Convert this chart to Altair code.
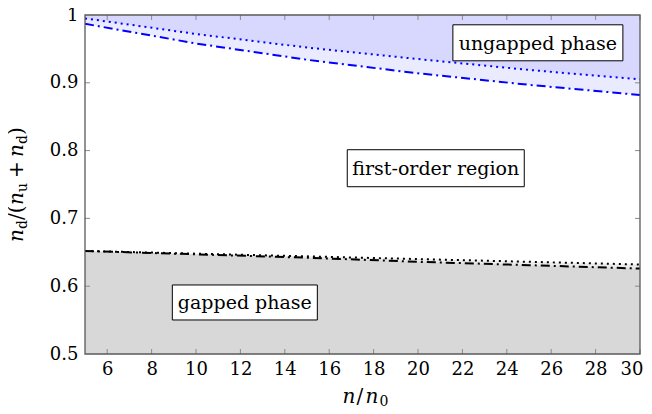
import altair as alt
import pandas as pd

# ---- data ----
n_vals = [5, 10, 15, 20, 25, 30]
blue_dotted = [0.995, 0.972, 0.952, 0.935, 0.919, 0.905]
blue_dashdot = [0.987, 0.958, 0.934, 0.914, 0.897, 0.882]
black_dotted = [0.652, 0.648, 0.644, 0.640, 0.636, 0.632]
black_dashdot = [0.652, 0.647, 0.642, 0.636, 0.631, 0.626]

x_ticks = [6, 8, 10, 12, 14, 16, 18, 20, 22, 24, 26, 28, 30]
y_ticks = [0.5, 0.6, 0.7, 0.8, 0.9, 1.0]
inner_y_ticks = [0.6, 0.7, 0.8, 0.9]

region_labels = ["ungapped phase", "first-order region", "gapped phase"]
region_n = [25.4, 20.8, 12.2]
region_y = [0.959, 0.774, 0.576]

# ---- layout / style ----
W, H = 555, 339
FONT = "DejaVu Serif"
box_sizes = [(170, 36), (177, 37), (145, 35)]

df = pd.DataFrame({
    "n": n_vals,
    "blue_dot": blue_dotted,
    "blue_dash": blue_dashdot,
    "black_dot": black_dotted,
    "black_dash": black_dashdot,
})

xscale = alt.Scale(domain=[5, 30], nice=False, zero=False)
yscale = alt.Scale(domain=[0.5, 1.0], nice=False, zero=False)
xaxis = alt.Axis(values=x_ticks, tickSize=0, domain=False, grid=False, title=None,
                 labelFont=FONT, labelFontSize=18, labelColor="black", labelPadding=6,
                 labelFlush=True, labelFlushOffset=3, labelOverlap=False)
yaxis = alt.Axis(values=y_ticks, tickSize=0, domain=False, grid=False, title=None,
                 labelFont=FONT, labelFontSize=18, labelColor="black", labelPadding=7,
                 labelExpr="datum.value == 1 ? '1' : format(datum.value, '.1f')",
                 labelFlush=False, labelOverlap=False)


def X(field):
    return alt.X(f"{field}:Q", scale=xscale, axis=xaxis)


def Y(field):
    return alt.Y(f"{field}:Q", scale=yscale, axis=yaxis)


base = alt.Chart(df)
layers = []

# fills
layers.append(base.mark_area(color="blue", opacity=0.08).encode(
    x=X("n"), y=Y("blue_dash"), y2=alt.Y2(datum=1.0)))
layers.append(base.mark_area(color="blue", opacity=0.08).encode(
    x=X("n"), y=Y("blue_dot"), y2=alt.Y2(datum=1.0)))
layers.append(base.mark_area(color="black", opacity=0.08).encode(
    x=X("n"), y=Y("black_dash"), y2=alt.Y2(datum=0.5)))
layers.append(base.mark_area(color="black", opacity=0.08).encode(
    x=X("n"), y=Y("black_dot"), y2=alt.Y2(datum=0.5)))

# lines
dot = [2, 4]
dashdot = [9, 4, 2, 4]
layers.append(base.mark_line(color="#0000ff", strokeWidth=2, strokeDash=dot).encode(
    x=X("n"), y=Y("blue_dot")))
layers.append(base.mark_line(color="#0000ff", strokeWidth=2, strokeDash=dashdot).encode(
    x=X("n"), y=Y("blue_dash")))
layers.append(base.mark_line(color="black", strokeWidth=2, strokeDash=dot).encode(
    x=X("n"), y=Y("black_dot")))
layers.append(base.mark_line(color="black", strokeWidth=2, strokeDash=dashdot).encode(
    x=X("n"), y=Y("black_dash")))

# inward tick marks
xt = alt.Chart(pd.DataFrame({"t": x_ticks}))
yt = alt.Chart(pd.DataFrame({"t": inner_y_ticks}))
tick_style = dict(color="#8a8a8a", strokeWidth=1)
layers.append(xt.mark_rule(**tick_style).encode(x=X("t"), y=alt.value(H), y2=alt.value(H - 5)))
layers.append(xt.mark_rule(**tick_style).encode(x=X("t"), y=alt.value(0), y2=alt.value(5)))
layers.append(yt.mark_rule(**tick_style).encode(y=Y("t"), x=alt.value(0), x2=alt.value(5)))
layers.append(yt.mark_rule(**tick_style).encode(y=Y("t"), x=alt.value(W - 5), x2=alt.value(W)))

# frame
one = alt.Chart(pd.DataFrame({"a": [0]}))
layers.append(one.mark_rect(filled=False, stroke="#595959", strokeWidth=1.3).encode(
    x=alt.value(0), x2=alt.value(W), y=alt.value(0), y2=alt.value(H)))

# region label boxes
for lab, cx, cy, (bw, bh) in zip(region_labels, region_n, region_y, box_sizes):
    d = alt.Chart(pd.DataFrame({"cx": [cx], "cy": [cy], "lab": [lab]}))
    layers.append(d.mark_rect(fill="white", stroke="black", strokeWidth=1,
                              xOffset=-bw / 2, x2Offset=bw / 2,
                              yOffset=-bh / 2, y2Offset=bh / 2).encode(
        x=X("cx"), x2=alt.X2("cx"), y=Y("cy"), y2=alt.Y2("cy")))
    layers.append(d.mark_text(font=FONT, fontSize=19, color="black", align="center",
                              baseline="middle", dy=1).encode(
        x=X("cx"), y=Y("cy"), text="lab:N"))

# y axis title: n_d/(n_u + n_d), composed of pieces (rotated)
# (text, font size, italic, advance width, shift to the right = subscript)
ytitle = [
    ("n", 20, True, 13, 0),
    ("d", 14, False, 9, 4),
    ("/(", 20, False, 15, 0),
    ("n", 20, True, 13, 0),
    ("u", 14, False, 10, 4),
    ("+", 20, False, 25, 0),
    ("n", 20, True, 13, 0),
    ("d", 14, False, 9, 4),
    (")", 20, False, 8, 0),
]
total = sum(p[3] for p in ytitle)
pos = H / 2 + total / 2
for txt, fs, it, adv, sh in ytitle:
    off = 4 if txt == "+" else 0
    layers.append(one.mark_text(font=FONT, fontSize=fs, fontStyle="italic" if it else "normal",
                                color="black", align="left", baseline="alphabetic",
                                angle=270, text=txt).encode(
        x=alt.value(-62 + sh), y=alt.value(pos - off)))
    pos -= adv

# x axis title: n/n_0
xtitle = [
    ("n", 20, True, 14, 0),
    ("/", 20, False, 9, 0),
    ("n", 20, True, 14, 0),
    ("0", 14, False, 9, 3),
]
total = sum(p[3] for p in xtitle)
pos = W / 2 - total / 2 + 3
for txt, fs, it, adv, sh in xtitle:
    layers.append(one.mark_text(font=FONT, fontSize=fs, fontStyle="italic" if it else "normal",
                                color="black", align="left", baseline="alphabetic",
                                text=txt).encode(
        x=alt.value(pos), y=alt.value(H + 49 + sh)))
    pos += adv

chart = alt.layer(*layers).properties(
    width=W, height=H,
    autosize=alt.AutoSizeParams(type="none"),
    padding={"left": 77, "top": 7, "right": 4, "bottom": 52},
).configure_view(strokeWidth=0)

chart.save("out.html", embed_options={"renderer": "svg", "actions": False})
